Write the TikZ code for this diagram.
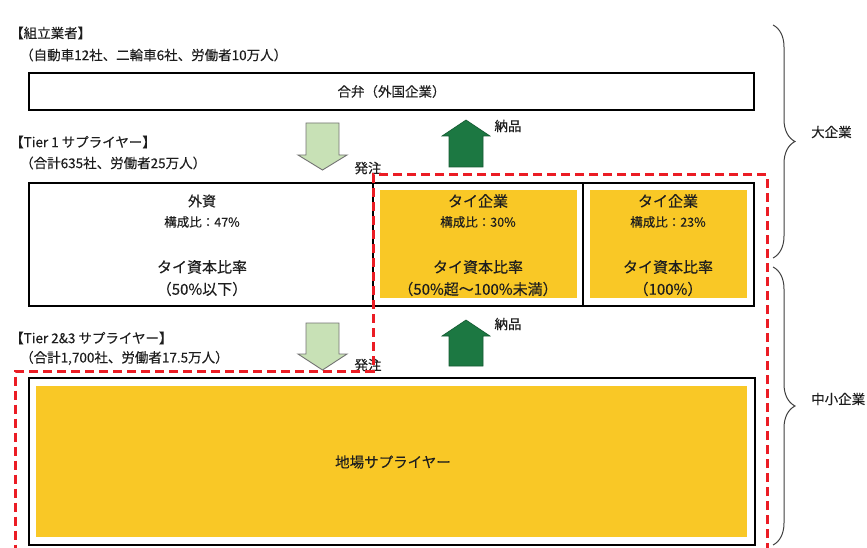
\documentclass[tikz,border=0pt]{standalone}
\usepackage{fontspec}
\setmainfont{Noto Sans CJK JP}[FakeBold=0.2]
\usetikzlibrary{decorations.pathreplacing}
\definecolor{gold}{RGB}{249,200,38}
\definecolor{lgreen}{RGB}{200,225,182}
\definecolor{lgreenline}{RGB}{115,115,115}
\definecolor{dgreen}{RGB}{28,120,66}
\definecolor{dgreenline}{RGB}{20,90,50}
\definecolor{dashred}{RGB}{235,28,36}
\definecolor{ink}{RGB}{30,30,30}
\tikzset{
  lbl/.style={anchor=west, inner sep=0pt, text=ink, font=\fontsize{13.5}{15}\selectfont},
  midtxt/.style={inner sep=0pt, text=ink, font=\fontsize{13.5}{15}\selectfont},
  smalltxt/.style={inner sep=0pt, text=ink, font=\fontsize{12.5}{14}\selectfont},
  bigtxt/.style={inner sep=0pt, text=ink, font=\fontsize{15}{17}\selectfont},
  cellbox/.style={draw=black, line width=1.8pt, inner sep=0pt},
  thinbox/.style={draw=black, line width=1.3pt, inner sep=0pt},
  fillbox/.style={fill=gold, inner sep=0pt},
  orderarrow/.style={fill=lgreen, draw=lgreenline, line width=0.9pt, line join=miter},
  deliverarrow/.style={fill=dgreen, draw=dgreenline, line width=0.6pt, line join=miter},
  redline/.style={draw=dashred, line width=3pt, dash pattern=on 9pt off 5pt},
  bracestyle/.style={draw=ink!85, line width=1pt, decorate, decoration={brace, amplitude=22pt}}
}
\begin{document}
\begin{tikzpicture}[x=1pt,y=-1pt]
\useasboundingbox[fill=white] (0,0) rectangle (867,548);

% headers
\node[lbl] (h1) at (10,33) {【組立業者】};
\node[lbl] (s1) at (20,55) {（自動車12社、二輪車6社、労働者10万人）};
\node[lbl] (h2) at (10,142) {【Tier 1 サプライヤー】};
\node[lbl] (s2) at (20,163) {（合計635社、労働者25万人）};
\node[lbl] (h3) at (10,338) {【Tier 2\&3 サプライヤー】};
\node[lbl] (s3) at (20,358) {（合計1,700社、労働者17.5万人）};

% JV box
\node[cellbox, minimum width=725pt, minimum height=37pt] (jv) at (391.5,91.5) {};
\node[midtxt] (jvt) at (jv.center) {合弁（外国企業）};

% Tier 1 cells
\node[cellbox, minimum width=344pt, minimum height=123pt] (c1) at (201,244.5) {};
\node[cellbox, minimum width=210pt, minimum height=123pt] (c2) at (478,244.5) {};
\node[cellbox, minimum width=171pt, minimum height=123pt] (c3) at (668.5,244.5) {};
\node[fillbox, minimum width=197pt, minimum height=108pt] (y2) at (478.5,244) {};
\node[fillbox, minimum width=157pt, minimum height=108pt] (y3) at (668.5,244) {};

\node[midtxt, font=\fontsize{14}{16}\selectfont] (c1a) at (202,201) {外資};
\node[smalltxt] (c1b) at (202,222) {構成比：47\%};
\node[bigtxt] (c1c) at (202,267) {タイ資本比率};
\node[bigtxt] (c1d) at (202,289) {（50\%以下）};

\node[bigtxt] (c2a) at (478,201) {タイ企業};
\node[smalltxt] (c2b) at (478,222) {構成比：30\%};
\node[bigtxt] (c2c) at (478,267) {タイ資本比率};
\node[bigtxt] (c2d) at (478,289) {（50\%超～100\%未満）};

\node[bigtxt] (c3a) at (668,201) {タイ企業};
\node[smalltxt] (c3b) at (668,222) {構成比：23\%};
\node[bigtxt] (c3c) at (668,267) {タイ資本比率};
\node[bigtxt] (c3d) at (668,289) {（100\%）};

% Tier 2&3 box
\node[thinbox, minimum width=726pt, minimum height=167pt] (t23) at (392,461.5) {};
\node[fillbox, minimum width=711pt, minimum height=151pt] (y23) at (391.5,461.5) {};
\node[midtxt, font=\fontsize{14.5}{16}\selectfont] (local) at (393,462) {地場サプライヤー};

% block arrows
\draw[orderarrow] (306,123) -- (339,123) -- (339,155) -- (347,155) -- (322.5,170) -- (298,155) -- (306,155) -- cycle;
\draw[deliverarrow] (449,167) -- (483,167) -- (483,136) -- (490,136) -- (466,120) -- (442,136) -- (449,136) -- cycle;
\draw[orderarrow] (306,323) -- (339,323) -- (339,354) -- (347,354) -- (322.5,370) -- (298,354) -- (306,354) -- cycle;
\draw[deliverarrow] (449,366) -- (483,366) -- (483,336) -- (490,336) -- (466,320) -- (442,336) -- (449,336) -- cycle;

\node[midtxt] (o1) at (368,168) {発注};
\node[midtxt] (d1) at (508,126) {納品};
\node[midtxt] (o2) at (368,365) {発注};
\node[midtxt] (d2) at (508,324) {納品};

% braces
\coordinate (b1t) at (773,25);
\coordinate (b1b) at (773,258);
\coordinate (b2t) at (773,267);
\coordinate (b2b) at (773,545);
\draw[bracestyle] (b1t) -- (b1b);
\draw[bracestyle] (b2t) -- (b2b);
\node[lbl] (big) at (811,132) {大企業};
\node[lbl] (sme) at (811,399) {中小企業};

% red dashed outline
\draw[redline] (767,552) -- (767,175) -- (373,175) -- (373,371) -- (15.5,371) -- (15.5,552);
\end{tikzpicture}
\end{document}
